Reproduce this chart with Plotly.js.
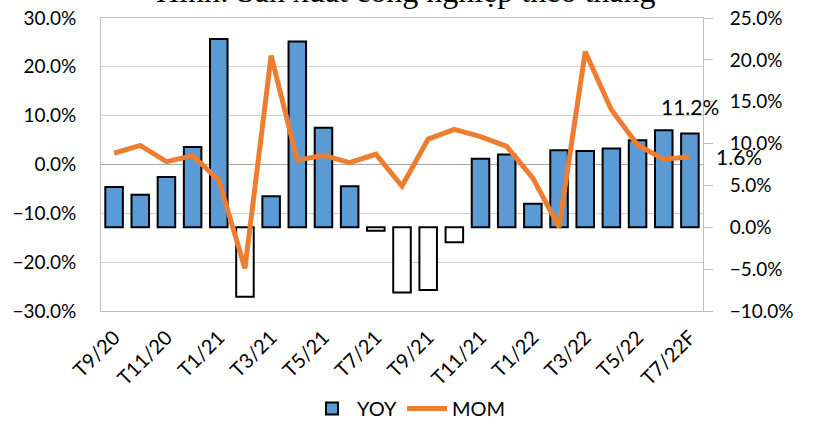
<!DOCTYPE html>
<html>
<head>
<meta charset="utf-8">
<script src="https://cdn.plot.ly/plotly-3.0.1.min.js"></script>
<style>html,body{margin:0;padding:0;background:#fff;}#chart{width:818px;height:428px;}</style>
</head>
<body>
<div id="chart"></div>
<script>
const chartTitle = "Hình: Sản xuất công nghiệp theo tháng";
const categories = ["T9/20","T10/20","T11/20","T12/20","T1/21","T2/21","T3/21","T4/21","T5/21","T6/21","T7/21","T8/21","T9/21","T10/21","T11/21","T12/21","T1/22","T2/22","T3/22","T4/22","T5/22","T6/22","T7/22F"];
// YOY (%), right axis
const yoy = [4.8, 3.9, 6.0, 9.6, 22.5, -8.3, 3.7, 22.2, 11.9, 4.9, -0.4, -7.8, -7.5, -1.8, 8.2, 8.7, 2.8, 9.2, 9.1, 9.4, 10.4, 11.6, 11.2];
// MOM (%), left axis
const mom = [2.3, 3.9, 0.6, 1.8, -3.2, -21.3, 22.3, 0.9, 1.9, 0.4, 2.1, -4.4, 5.2, 7.2, 5.7, 3.7, -2.8, -12.8, 23.1, 11.2, 4.0, 1.1, 1.6];
const seriesNames = ["YOY", "MOM"];
const tickLabels = categories.filter((c, i) => i % 2 === 0);

const font = "Lato, 'Open Sans', sans-serif";
const last = categories.length - 1;

const traces = [
  {
    type: "bar", name: seriesNames[0], x: categories, y: yoy, yaxis: "y",
    marker: { color: yoy.map(v => v >= 0 ? "#5b9bd5" : "#ffffff"), line: { color: "#000000", width: 2 } },
    hoverinfo: "x+y"
  },
  {
    type: "scatter", mode: "lines", name: seriesNames[1], x: categories, y: mom, yaxis: "y2",
    line: { color: "#ed7d31", width: 5, shape: "linear" }
  }
];

const layout = {
  width: 818, height: 428,
  margin: { l: 101, r: 115, t: 18, b: 117 },
  paper_bgcolor: "#ffffff", plot_bgcolor: "#ffffff",
  font: { family: font, size: 19, color: "#000000" },
  showlegend: true,
  bargap: 0.33,
  legend: { orientation: "h", xref: "container", yref: "container", x: 0.5, xanchor: "center", y: 0, yanchor: "bottom", font: { family: font, size: 20 }, itemwidth: 40, traceorder: "normal" },
  xaxis: {
    type: "category", range: [-0.5, categories.length - 0.5], tickmode: "array", tickvals: tickLabels, ticktext: tickLabels,
    tickangle: -45, showline: true, linecolor: "#bfbfbf", linewidth: 1, mirror: true,
    showgrid: false, ticks: "", ticklabelstandoff: 6, tickfont: { family: font, size: 20 }
  },
  yaxis: {
    range: [-10, 25], dtick: 5, tickformat: ".1f", ticksuffix: "%",
    side: "right", showgrid: false, zeroline: false,
    showline: true, linecolor: "#bfbfbf", ticks: "outside", ticklen: 9, tickcolor: "#bfbfbf",
    ticklabelstandoff: 13, tickfont: { family: font, size: 19 }
  },
  yaxis2: {
    range: [-30, 30], dtick: 10, tickformat: ".1f", ticksuffix: "%",
    overlaying: "y", side: "left",
    showgrid: true, gridcolor: "#d0d0d0", gridwidth: 1,
    zeroline: true, zerolinecolor: "#a6a6a6", zerolinewidth: 1,
    showline: true, linecolor: "#bfbfbf", ticks: "", ticklabelstandoff: 20,
    tickfont: { family: font, size: 19 }
  },
  annotations: [
    { text: chartTitle, xref: "paper", yref: "paper", x: 0.506, y: 1, xanchor: "center", yanchor: "bottom", yshift: 7, showarrow: false,
      font: { family: "'Liberation Serif', 'Times New Roman', serif", size: 32, color: "#000000" } },
    { text: yoy[last].toFixed(1) + "%", x: categories[last], y: yoy[last], xref: "x", yref: "y", yanchor: "middle", yshift: 27, showarrow: false,
      font: { family: font, size: 21, color: "#000000" } },
    { text: mom[last].toFixed(1) + "%", x: categories[last], y: mom[last], xref: "x", yref: "y2", xanchor: "center", yanchor: "middle", xshift: 49, showarrow: false,
      font: { family: font, size: 21, color: "#000000" } }
  ]
};

Plotly.newPlot("chart", traces, layout, { displayModeBar: false, staticPlot: true });
</script>
</body>
</html>
